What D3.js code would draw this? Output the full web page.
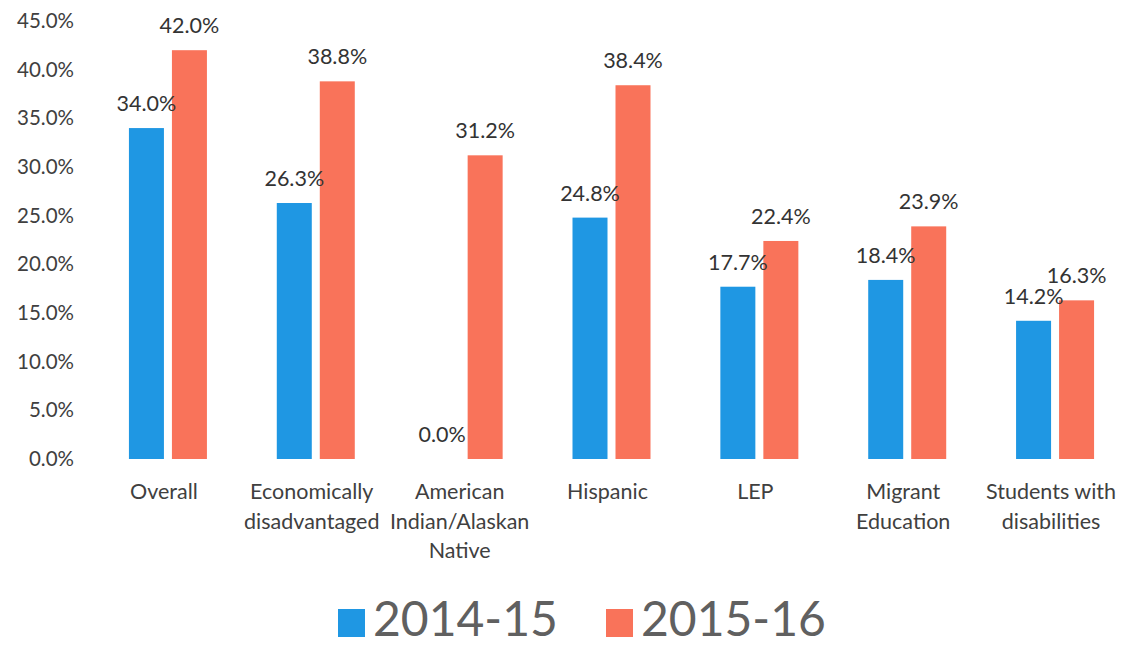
<!DOCTYPE html>
<html>
<head>
<meta charset="utf-8">
<script src="https://cdn.jsdelivr.net/npm/d3@7"></script>
<style>
  html, body { margin: 0; padding: 0; background: #ffffff; }
  svg { display: block; font-family: Lato, "Open Sans", sans-serif; }
</style>
</head>
<body>
<svg id="chart" width="1123" height="645"></svg>
<script>
// Category names, split into the lines shown under each group
const categories = ["Overall", "Economically disadvantaged", "American Indian/Alaskan Native",
  "Hispanic", "LEP", "Migrant Education", "Students with disabilities"];
const categoryLines = [
  ["Overall"],
  ["Economically", "disadvantaged"],
  ["American", "Indian/Alaskan", "Native"],
  ["Hispanic"],
  ["LEP"],
  ["Migrant", "Education"],
  ["Students with", "disabilities"]
];
const seriesNames = ["2014-15", "2015-16"];
const values2014 = [0.340, 0.263, 0.000, 0.248, 0.177, 0.184, 0.142];
const values2015 = [0.420, 0.388, 0.312, 0.384, 0.224, 0.239, 0.163];
const yTicks = [0, 0.05, 0.10, 0.15, 0.20, 0.25, 0.30, 0.35, 0.40, 0.45];
const colors = ["#1f97e3", "#f9735a"];

const svg = d3.select("#chart");

const x0 = d3.scaleBand().domain(categories).range([94, 1129]).padding(0);
const bw = x0.bandwidth();
const x1 = d3.scaleBand().domain(seriesNames)
  .range([bw / 2 - 39, bw / 2 + 39]).paddingInner(8 / 43).paddingOuter(0);
const y = d3.scaleLinear().domain([0, 0.45]).range([459, 21]);
const color = d3.scaleOrdinal().domain(seriesNames).range(colors);
const pct = d3.format(".1%");

// Y axis labels only (no line, no ticks)
const yAxis = d3.axisLeft(y).tickValues(yTicks).tickFormat(pct).tickSize(0).tickPadding(0);
const yg = svg.append("g").attr("transform", "translate(74,0)").call(yAxis);
yg.select(".domain").remove();
yg.selectAll("text")
  .attr("fill", "#404040")
  .style("font-size", "20.5px")
  .style("font-family", "Lato, 'Open Sans', sans-serif");

const rows = categories.map((c, i) => ({
  cat: c,
  vals: [values2014[i], values2015[i]]
}));

const groups = svg.append("g").selectAll("g.grp")
  .data(rows).join("g")
  .attr("class", "grp")
  .attr("transform", d => `translate(${x0(d.cat)},0)`);

// Bars (zero-height bars have no visible rectangle)
groups.selectAll("rect")
  .data(d => d.vals.map((v, k) => ({ s: seriesNames[k], v })))
  .join("rect")
  .attr("x", d => x1(d.s))
  .attr("width", x1.bandwidth())
  .attr("y", d => y(d.v))
  .attr("height", d => y(0) - y(d.v))
  .attr("fill", d => color(d.s));

// Value labels above each bar
groups.selectAll("text.val")
  .data(d => d.vals.map((v, k) => ({ s: seriesNames[k], v })))
  .join("text")
  .attr("class", "val")
  .attr("x", d => x1(d.s) + x1.bandwidth() / 2)
  .attr("y", d => y(d.v) - 17)
  .attr("text-anchor", "middle")
  .attr("fill", "#333333")
  .style("font-size", "21.5px")
  .text(d => pct(d.v));

// Category labels beneath the groups
const catG = svg.append("g");
categoryLines.forEach((lines, i) => {
  const cx = x0(categories[i]) + bw / 2 - 4;
  const t = catG.append("text")
    .attr("text-anchor", "middle")
    .attr("fill", "#404040")
    .style("font-size", "21.5px");
  lines.forEach((ln, j) => {
    t.append("tspan").attr("x", cx).attr("y", 499 + j * 29.5).text(ln);
  });
});

// Legend
const legendX = [338, 606];
const lg = svg.append("g");
seriesNames.forEach((s, i) => {
  lg.append("rect")
    .attr("x", legendX[i]).attr("y", 609)
    .attr("width", 27).attr("height", 28)
    .attr("fill", color(s));
  lg.append("text")
    .attr("x", legendX[i] + 35).attr("y", 636)
    .attr("fill", "#606060")
    .style("font-size", "48px")
    .text(s);
});
</script>
</body>
</html>
